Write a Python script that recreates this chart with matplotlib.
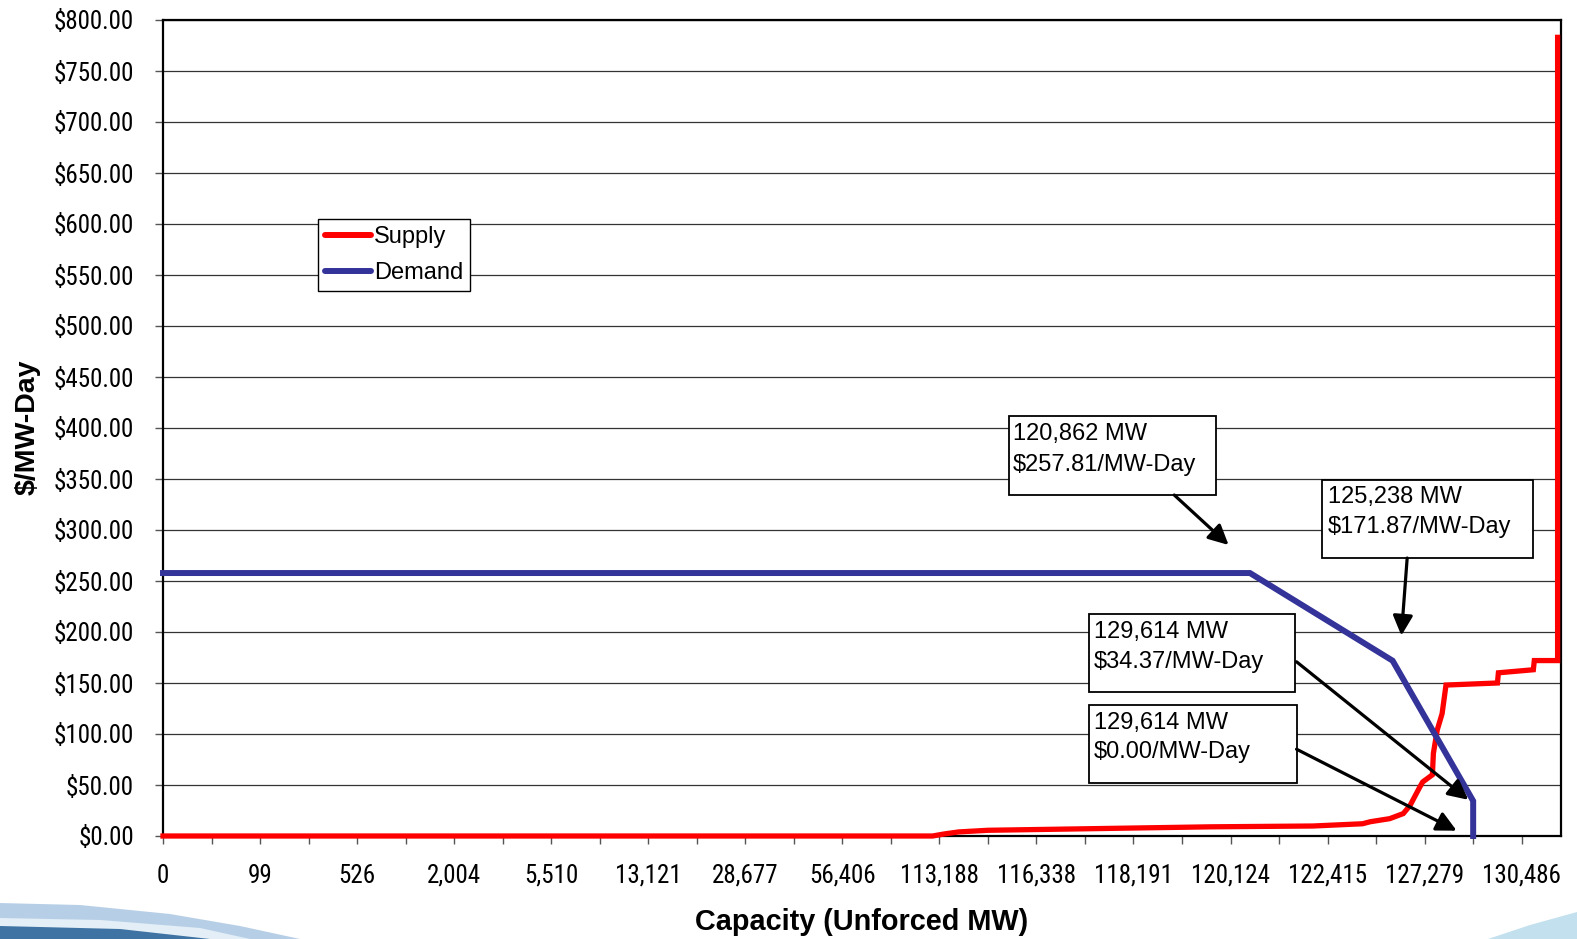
import os
import matplotlib
matplotlib.use("Agg")
import matplotlib.pyplot as plt
from matplotlib import font_manager
from matplotlib.patches import Rectangle, Polygon
from matplotlib.ticker import FixedLocator, FuncFormatter

# ---------------- data ----------------
# category-axis labels (capacity, MW) shown under every second tick
capacity_labels = ["0", "99", "526", "2,004", "5,510", "13,121", "28,677", "56,406",
                   "113,188", "116,338", "118,191", "120,124", "122,415", "127,279", "130,486"]

# supply offer curve: position on the category axis (label steps) and price ($/MW-Day)
supply_pos = [0.0, 7.93, 8.05, 8.2, 8.5, 9.45, 10.8, 11.85, 12.36, 12.44, 12.64, 12.78,
              12.85, 12.95, 12.98, 13.08, 13.09, 13.13, 13.18, 13.22, 13.75, 13.76,
              14.12, 14.13, 14.37, 14.37]
supply_price = [0.0, 0.0, 2.0, 4.0, 5.6, 7.0, 9.0, 9.8, 12.0, 14.0, 17.0, 22.0,
                30.0, 48.0, 53.0, 60.0, 81.0, 104.0, 120.0, 148.0, 150.0, 160.0,
                163.0, 172.0, 172.0, 783.0]

# demand curve (VRR)
demand_pos = [0.0, 11.2, 12.67, 13.5, 13.5]
demand_price = [257.81, 257.81, 171.87, 34.37, 0.0]

y_ticks = list(range(0, 801, 50))

callout_lines = [("120,862 MW", "$257.81/MW-Day"),
                 ("125,238 MW", "$171.87/MW-Day"),
                 ("129,614 MW", "$34.37/MW-Day"),
                 ("129,614 MW", "$0.00/MW-Day")]

# ---------------- fonts ----------------
def find_narrow():
    files = [f.fname for f in font_manager.fontManager.ttflist]
    prefs = [("liberationsansnarrow-regular", 19.0),
             ("robotocondensed-regular", 18.0),
             ("opensanscondensed", 17.0),
             ("notosans-condensed.", 17.5),
             ("notosanscondensed-regular", 17.5),
             ("dejavusanscondensed.", 16.0)]
    for key, size in prefs:
        for fn in files:
            if key in os.path.basename(fn).lower().replace("_", "-") or \
               key in os.path.basename(fn).lower():
                return font_manager.FontProperties(fname=fn, size=size)
    return font_manager.FontProperties(family=["Liberation Sans"], size=15.5)

NARROW_FP = find_narrow()
ARIAL = ["Liberation Sans", "DejaVu Sans"]

# ---------------- layout ----------------
W, H = 1577, 939
fig = plt.figure(figsize=(W / 100, H / 100), dpi=100)
fig.patch.set_facecolor("white")


def px(x, y):
    return (x / W, 1 - y / H)


# decorative slide swooshes (background)
fig.patches.append(Polygon([px(0, 903), px(80, 905), px(170, 914), px(240, 926), px(300, 939), px(0, 939)],
                           closed=True, transform=fig.transFigure, facecolor="#b7cfe6",
                           edgecolor="none", zorder=0))
fig.patches.append(Polygon([px(0, 918), px(100, 920), px(200, 928), px(250, 939), px(0, 939)],
                           closed=True, transform=fig.transFigure, facecolor="#e3eef7",
                           edgecolor="none", zorder=0))
fig.patches.append(Polygon([px(0, 926), px(120, 929), px(210, 939), px(0, 939)],
                           closed=True, transform=fig.transFigure, facecolor="#3f73a3",
                           edgecolor="none", zorder=0))
fig.patches.append(Polygon([px(1488, 939), px(1530, 925), px(1577, 912), px(1577, 939)],
                           closed=True, transform=fig.transFigure, facecolor="#c3e0ee",
                           edgecolor="none", zorder=0))

ax = fig.add_axes([163 / W, 1 - 836 / H, (1561 - 163) / W, (836 - 20) / H])
ax.set_facecolor("white")

n_lab = len(capacity_labels)
ax.set_xlim(0, 14.405)
ax.set_ylim(0, 800)

ax.plot(supply_pos, supply_price, color="#ff0000", lw=3.8, solid_joinstyle="miter",
        label="Supply", zorder=3, clip_on=False)
ax.plot(demand_pos, demand_price, color="#333399", lw=4.3, solid_joinstyle="miter",
        label="Demand", zorder=3, clip_on=False)

# axes styling
ax.yaxis.set_major_locator(FixedLocator(y_ticks))
ax.yaxis.set_major_formatter(FuncFormatter(lambda v, p: "${:,.2f}".format(v)))
ax.xaxis.set_major_locator(FixedLocator(list(range(n_lab))))
ax.xaxis.set_minor_locator(FixedLocator([i + 0.5 for i in range(n_lab)]))
ax.set_xticklabels(capacity_labels)
ax.grid(axis="y", color="#333333", lw=0.9, zorder=1)
ax.set_axisbelow(True)
for s in ax.spines.values():
    s.set_linewidth(1.6)
    s.set_color("black")
ax.tick_params(axis="y", direction="out", length=6, width=1, color="#555555", pad=15)
ax.tick_params(axis="x", which="both", direction="out", length=6, width=1, color="#555555",
               pad=14)
for lab in ax.get_yticklabels() + ax.get_xticklabels():
    lab.set_fontproperties(NARROW_FP)

fig.text(28 / W, 1 - 427 / H, "$/MW-Day", rotation=90, ha="center", va="center",
         fontsize=20.5, fontweight="bold", family=ARIAL)
fig.text(862 / W, 1 - 922 / H, "Capacity (Unforced MW)", ha="center", va="center",
         fontsize=20.8, fontweight="bold", family=ARIAL)

leg = ax.legend(loc="upper left", bbox_to_anchor=px(318, 219), bbox_transform=fig.transFigure,
                borderaxespad=0, fancybox=False, framealpha=1, edgecolor="black",
                prop={"family": ARIAL, "size": 17}, handlelength=1.95, handletextpad=0.12,
                borderpad=0.3, labelspacing=0.6)
leg.get_frame().set_linewidth(1.0)
for h in leg.get_lines():
    h.set_linewidth(4.3)
    h.set_solid_capstyle("round")

# callout boxes: (u0, u1, p_bottom, p_top), text x, line1 y, line2 y, arrow tail, arrow head
callout_layout = [
    ((8.72, 10.85, 334.3, 411.8), 8.76, 394.0, 364.0, (10.42, 334.3), (10.98, 285.3)),
    ((11.94, 14.12, 272.4, 349.3), 12.0, 332.5, 303.0, (12.82, 272.5), (12.76, 196.5)),
    ((9.54, 11.66, 141.2, 218.1), 9.59, 200.3, 171.0, (11.68, 170.8), (13.45, 35.5)),
    ((9.54, 11.68, 51.6, 128.4), 9.59, 110.7, 82.0, (11.68, 85.1), (13.33, 5.2)),
]
for (lines, (box, tx, y1, y2, tail, head)) in zip(callout_lines, callout_layout):
    u0, u1, p0, p1 = box
    ax.add_patch(Rectangle((u0, p0), u1 - u0, p1 - p0, facecolor="white", edgecolor="black",
                           lw=1.3, zorder=5))
    ax.text(tx, y1, lines[0], ha="left", va="center", fontsize=17, family=ARIAL, zorder=6)
    ax.text(tx, y2, lines[1], ha="left", va="center", fontsize=17, family=ARIAL, zorder=6)
    ax.annotate("", xy=head, xytext=tail,
                arrowprops=dict(arrowstyle="-|>", mutation_scale=30, lw=2.3, color="black",
                                shrinkA=0, shrinkB=0), zorder=6)

fig.savefig("out.png", dpi=100, facecolor="white")
